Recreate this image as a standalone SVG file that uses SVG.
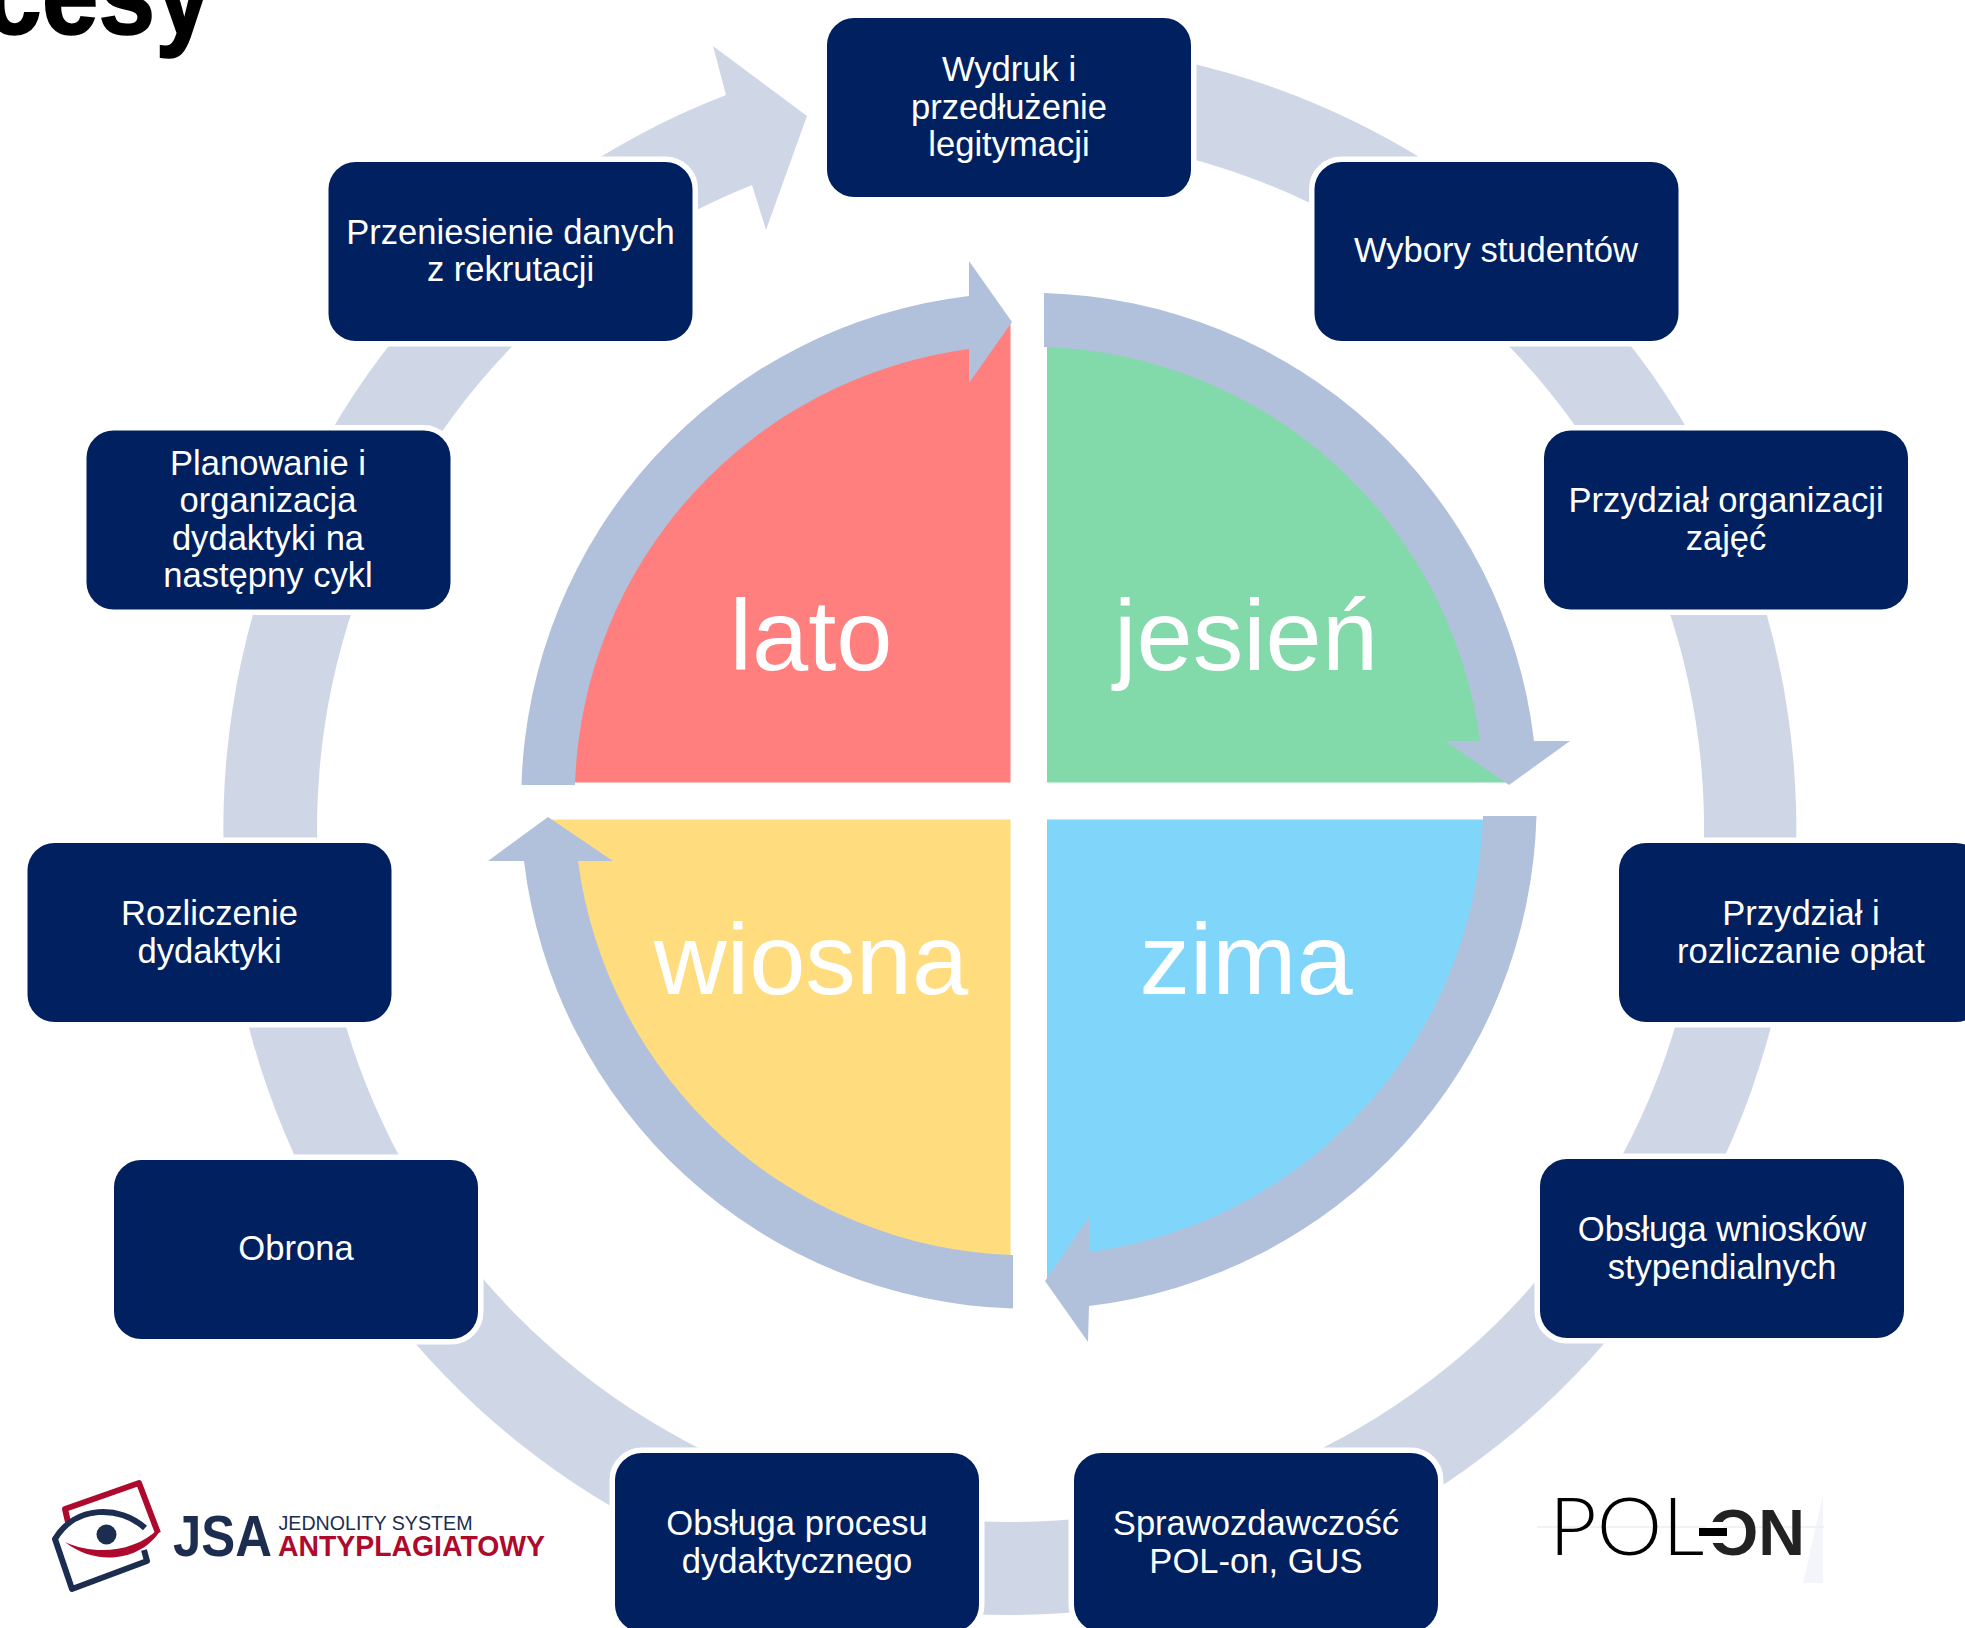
<svg xmlns="http://www.w3.org/2000/svg" width="1965" height="1628" viewBox="0 0 1965 1628">
<style>
text{font-family:"Liberation Sans",Arial,sans-serif}
.box{fill:#002060;stroke:#fff;stroke-width:11;paint-order:stroke fill}
.lbl{fill:#fff;font-size:34.6px;text-anchor:middle}
.season{fill:#fff;font-size:101px;text-anchor:middle}
.ring{fill:#B1C1DB}
.outer{fill:#CFD7E7}
</style>
<rect width="1965" height="1628" fill="#fff"/>
<text transform="translate(212 34) scale(1 1.15)" font-size="102" font-weight="700" text-anchor="end" fill="#000" stroke="#000" stroke-width="1.5">cesy</text>
<g id="connectors">
<path class="outer" d="M1012.5 42A786.5 786.5 0 1 1 726 95L713 46L807 116L766 230L752 185A693.5 693.5 0 1 0 1012.5 135Z"/>
</g>
<g id="quadrants">
<g id="q-lato"><path fill="#FF7F7F" d="M1010.5 782.5H550A460.5 460.5 0 0 1 1010.5 322Z"/><text class="season" x="811" y="670">lato</text></g>
<g id="q-jesien"><path fill="#82D9A9" d="M1047 782.5H1507A460.5 460.5 0 0 0 1047 322Z"/><text class="season" x="1246" y="670">jesień</text></g>
<g id="q-wiosna"><path fill="#FFDD7F" d="M1010.5 819.5H550A460 460 0 0 0 1010.5 1279Z"/><text class="season" x="811" y="994">wiosna</text></g>
<g id="q-zima"><path fill="#80D6FA" d="M1047 819.5H1507A460 460 0 0 1 1047 1279Z"/><text class="season" x="1246" y="994">zima</text></g>
</g>
<g id="season-arrows">
<path class="ring" d="M1044 293A507.5 507.5 0 0 1 1534 741L1570 741L1509 785L1445 741L1480 741A454 454 0 0 0 1044 347Z"/>
<path class="ring" d="M1536.5 816A507.5 507.5 0 0 1 1089 1306L1088 1342L1045 1281L1089 1217L1089 1252A454 454 0 0 0 1483 816Z"/>
<path class="ring" d="M1013 1308.5A507.5 507.5 0 0 1 524 861L488 861L548 817L613 861L578 861A454 454 0 0 0 1013 1255Z"/>
<path class="ring" d="M521.5 785A507.5 507.5 0 0 1 969 296L969 261L1012 322L969 383L969 349A454 454 0 0 0 575 785Z"/>
</g>
<g id="n1"><rect class="box" x="827" y="18" width="364" height="179" rx="27"/><text class="lbl" x="1009" y="81">Wydruk i</text><text class="lbl" x="1009" y="118.5">przedłużenie</text><text class="lbl" x="1009" y="156">legitymacji</text></g>
<g id="n2"><rect class="box" x="1314.5" y="162" width="364" height="179" rx="27"/><text class="lbl" x="1496" y="262">Wybory studentów</text></g>
<g id="n3"><rect class="box" x="1544" y="430.5" width="364" height="179" rx="27"/><text class="lbl" x="1726" y="512">Przydział organizacji</text><text class="lbl" x="1726" y="549.5">zajęć</text></g>
<g id="n4"><rect class="box" x="1619" y="843" width="364" height="179" rx="27"/><text class="lbl" x="1801" y="925">Przydział i</text><text class="lbl" x="1801" y="962.5">rozliczanie opłat</text></g>
<g id="n5"><rect class="box" x="1540" y="1159" width="364" height="179" rx="27"/><text class="lbl" x="1722" y="1241">Obsługa wniosków</text><text class="lbl" x="1722" y="1278.5">stypendialnych</text></g>
<g id="n6"><rect class="box" x="1074" y="1453" width="364" height="179" rx="27"/><text class="lbl" x="1256" y="1535">Sprawozdawczość</text><text class="lbl" x="1256" y="1572.5">POL-on, GUS</text></g>
<g id="n7"><rect class="box" x="615" y="1453" width="364" height="179" rx="27"/><text class="lbl" x="797" y="1535">Obsługa procesu</text><text class="lbl" x="797" y="1572.5">dydaktycznego</text></g>
<g id="n8"><rect class="box" x="114" y="1160" width="364" height="179" rx="27"/><text class="lbl" x="296" y="1260">Obrona</text></g>
<g id="n9"><rect class="box" x="27.5" y="843" width="364" height="179" rx="27"/><text class="lbl" x="209.5" y="925">Rozliczenie</text><text class="lbl" x="209.5" y="962.5">dydaktyki</text></g>
<g id="n10"><rect class="box" x="86.5" y="430.5" width="364" height="179" rx="27"/><text class="lbl" x="268" y="474.5">Planowanie i</text><text class="lbl" x="268" y="512">organizacja</text><text class="lbl" x="268" y="549.5">dydaktyki na</text><text class="lbl" x="268" y="587">następny cykl</text></g>
<g id="n11"><rect class="box" x="328.5" y="162" width="364" height="179" rx="27"/><text class="lbl" x="510.5" y="244">Przeniesienie danych</text><text class="lbl" x="510.5" y="281">z rekrutacji</text></g>
<g id="logo-jsa">
<path fill="none" stroke="#AE0A2E" stroke-width="6" stroke-linejoin="round" d="M68 1522L65 1509L139 1483L158 1533"/>
<path fill="#AE0A2E" d="M160 1531C140 1562 95 1566 65 1542C95 1556 135 1552 158 1529Z"/>
<path fill="none" stroke="#1D2D4F" stroke-width="6" stroke-linejoin="round" d="M144 1550L147 1561L72 1589L55 1539C75 1505 120 1505 145 1528"/>
<ellipse cx="106.5" cy="1534.5" rx="10" ry="10" fill="#1D2D4F"/>
<text x="173" y="1556" font-size="57" font-weight="700" fill="#1D2D4F" textLength="99" lengthAdjust="spacingAndGlyphs">JSA</text>
<text x="278.5" y="1530" font-size="20" fill="#1D2D4F" textLength="194" lengthAdjust="spacingAndGlyphs">JEDNOLITY SYSTEM</text>
<text x="278" y="1556" font-size="30" font-weight="700" fill="#AE0A2E" textLength="267" lengthAdjust="spacingAndGlyphs">ANTYPLAGIATOWY</text>
</g>
<g id="logo-polon">
<path fill="#F4F5FA" d="M1823 1495V1583H1803Z"/>
<path stroke="#EEE" stroke-width="1.5" d="M1537 1527H1824"/>
<text x="1549" y="1555" font-size="80" fill="#000" font-weight="300" style="font-family:Lato,'Liberation Sans',sans-serif" textLength="155" lengthAdjust="spacingAndGlyphs">POL</text>
<text x="1708" y="1555" font-size="64" font-weight="700" fill="#222" textLength="97" lengthAdjust="spacingAndGlyphs">ON</text>
<rect x="1706" y="1522" width="17" height="21" fill="#fff"/>
<rect x="1699" y="1528" width="28" height="8" fill="#000"/>
</g>
</svg>
